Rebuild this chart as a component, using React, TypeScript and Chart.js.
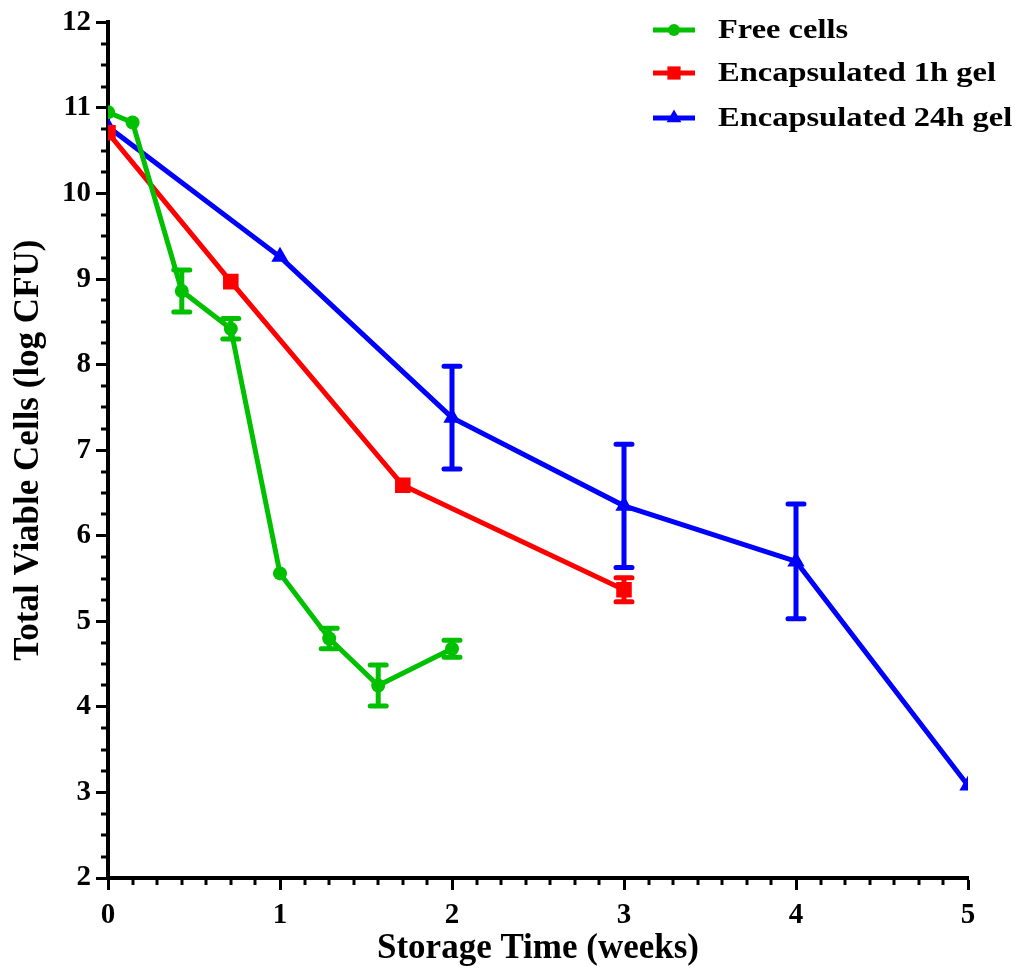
import React, { useEffect, useRef } from "react";
import { Chart, registerables } from "chart.js";

Chart.register(...registerables);

const freeX = [0, 0.143, 0.429, 0.714, 1, 1.286, 1.571, 2];
const freeY = [10.95, 10.83, 8.86, 8.42, 5.56, 4.8, 4.25, 4.68];
const freeErr = [0, 0, 0.245, 0.12, 0, 0.12, 0.24, 0.1];

const gel1X = [0, 0.714, 1.714, 3];
const gel1Y = [10.71, 8.97, 6.59, 5.37];
const gel1Err = [0, 0, 0, 0.14];

const gel24X = [0, 1, 2, 3, 4, 5];
const gel24Y = [10.78, 9.26, 7.38, 6.35, 5.7, 3.08];
const gel24Err = [0, 0, 0.6, 0.72, 0.67, 0];

const seriesLabels = ["Free cells", "Encapsulated 1h gel", "Encapsulated 24h gel"];
const seriesColors = ["#00C000", "#FF0000", "#0000FF"];
const seriesStyles = ["circle", "rect", "triangle"];
const seriesRadii = [7, 11, 10];

const xTicks = [0, 1, 2, 3, 4, 5];
const yTicks = [2, 3, 4, 5, 6, 7, 8, 9, 10, 11, 12];
const xMinorPerMajor = 7;
const yMinorPerMajor = 4;

const FONT = '"Liberation Serif", "Times New Roman", serif';

const errorErrs = [freeErr, gel1Err, gel24Err];

const errorBarPlugin = {
  id: "errorBars",
  afterDatasetsDraw(chart: any) {
    const ctx = chart.ctx;
    const ys = chart.scales.y;
    chart.data.datasets.forEach((ds: any, i: number) => {
      const meta = chart.getDatasetMeta(i);
      const errs = errorErrs[i];
      ctx.save();
      ctx.strokeStyle = ds.borderColor;
      ctx.lineWidth = 5;
      ctx.lineCap = "round";
      meta.data.forEach((pt: any, j: number) => {
        const e = errs[j];
        if (!e) return;
        const v = ds.data[j].y;
        const top = ys.getPixelForValue(v + e);
        const bot = ys.getPixelForValue(v - e);
        const x = pt.x;
        ctx.beginPath();
        ctx.moveTo(x, top);
        ctx.lineTo(x, bot);
        ctx.moveTo(x - 8, top);
        ctx.lineTo(x + 8, top);
        ctx.moveTo(x - 8, bot);
        ctx.lineTo(x + 8, bot);
        ctx.stroke();
      });
      ctx.restore();
    });
  },
};

const minorTickPlugin = {
  id: "minorTicks",
  afterDraw(chart: any) {
    const ctx = chart.ctx;
    const xs = chart.scales.x;
    const ys = chart.scales.y;
    const area = chart.chartArea;
    ctx.save();
    ctx.strokeStyle = "#000";
    ctx.lineWidth = 3;
    for (let k = 0; k < xTicks.length - 1; k++) {
      for (let m = 1; m < xMinorPerMajor; m++) {
        const v = xTicks[k] + (m * (xTicks[k + 1] - xTicks[k])) / xMinorPerMajor;
        const px = Math.round(xs.getPixelForValue(v));
        ctx.beginPath();
        ctx.moveTo(px, area.bottom);
        ctx.lineTo(px, area.bottom + 7);
        ctx.stroke();
      }
    }
    for (let k = 0; k < yTicks.length - 1; k++) {
      for (let m = 1; m < yMinorPerMajor; m++) {
        const v = yTicks[k] + (m * (yTicks[k + 1] - yTicks[k])) / yMinorPerMajor;
        const py = Math.round(ys.getPixelForValue(v));
        ctx.beginPath();
        ctx.moveTo(area.left, py);
        ctx.lineTo(area.left - 7, py);
        ctx.stroke();
      }
    }
    ctx.restore();
  },
};

const legendPlugin = {
  id: "customLegend",
  afterDraw(chart: any) {
    const ctx = chart.ctx;
    const x0 = 653;
    const x1 = 695;
    const textX = 718;
    const rows = [30, 73, 118];
    ctx.save();
    chart.data.datasets.forEach((ds: any, i: number) => {
      const y = rows[i];
      ctx.strokeStyle = ds.borderColor;
      ctx.lineWidth = 5;
      ctx.beginPath();
      ctx.moveTo(x0, y);
      ctx.lineTo(x1, y);
      ctx.stroke();
      ctx.fillStyle = ds.borderColor;
      const r = seriesRadii[i] * 0.85;
      const cx = (x0 + x1) / 2;
      ctx.beginPath();
      if (seriesStyles[i] === "circle") {
        ctx.arc(cx, y, r, 0, Math.PI * 2);
      } else if (seriesStyles[i] === "rect") {
        const s = r * Math.SQRT1_2;
        ctx.rect(cx - s, y - s, 2 * s, 2 * s);
      } else {
        ctx.moveTo(cx, y - r);
        ctx.lineTo(cx + r * 0.866, y + r * 0.5);
        ctx.lineTo(cx - r * 0.866, y + r * 0.5);
        ctx.closePath();
      }
      ctx.fill();
      ctx.save();
      ctx.fillStyle = "#000";
      ctx.font = `bold 28px ${FONT}`;
      ctx.textBaseline = "middle";
      ctx.textAlign = "left";
      ctx.translate(textX, y + 1);
      ctx.scale(1.16, 1);
      ctx.fillText(ds.label, 0, 0);
      ctx.restore();
    });
    ctx.restore();
  },
};

function makeDataset(i: number, xs: number[], ys: number[]) {
  return {
    label: seriesLabels[i],
    data: xs.map((x, j) => ({ x, y: ys[j] })),
    borderColor: seriesColors[i],
    backgroundColor: seriesColors[i],
    borderWidth: 5,
    pointStyle: seriesStyles[i],
    pointRadius: seriesRadii[i],
    pointBorderWidth: 0,
    pointBackgroundColor: seriesColors[i],
    showLine: true,
    tension: 0,
  };
}

export default function App() {
  const ref = useRef<HTMLCanvasElement | null>(null);
  useEffect(() => {
    if (!ref.current) return;
    const chart = new Chart(ref.current, {
      type: "scatter",
      data: {
        datasets: [
          makeDataset(0, freeX, freeY),
          makeDataset(1, gel1X, gel1Y),
          makeDataset(2, gel24X, gel24Y),
        ],
      },
      options: {
        animation: false,
        responsive: false,
        devicePixelRatio: 1,
        layout: { padding: { left: 8, right: 51, top: 20, bottom: 4 } },
        plugins: {
          legend: { display: false },
          tooltip: { enabled: false },
        },
        scales: {
          x: {
            type: "linear",
            min: 0,
            max: 5,
            afterBuildTicks: (s: any) => {
              s.ticks = xTicks.map((v) => ({ value: v }));
            },
            afterFit: (s: any) => {
              s.height = 92;
            },
            border: { display: true, color: "#000", width: 4 },
            grid: {
              drawOnChartArea: false,
              drawTicks: true,
              tickLength: 12,
              tickWidth: 3,
              tickColor: "#000",
            },
            ticks: {
              color: "#000",
              font: { family: FONT, size: 29, weight: "bold" },
              padding: 8,
              maxRotation: 0,
            },
            title: {
              display: true,
              text: "Storage Time (weeks)",
              color: "#000",
              font: { family: FONT, size: 35, weight: "bold" },
              padding: { top: 0, bottom: 0 },
            },
          },
          y: {
            type: "linear",
            min: 2,
            max: 12,
            afterBuildTicks: (s: any) => {
              s.ticks = yTicks.map((v) => ({ value: v }));
            },
            afterFit: (s: any) => {
              s.width = 100;
            },
            border: { display: true, color: "#000", width: 4 },
            grid: {
              drawOnChartArea: false,
              drawTicks: true,
              tickLength: 12,
              tickWidth: 3,
              tickColor: "#000",
            },
            ticks: {
              color: "#000",
              font: { family: FONT, size: 29, weight: "bold" },
              padding: 5,
            },
            title: {
              display: true,
              text: "Total Viable Cells (log CFU)",
              color: "#000",
              font: { family: FONT, size: 35, weight: "bold" },
              padding: { top: 0, bottom: 0 },
            },
          },
        },
      },
      plugins: [errorBarPlugin, minorTickPlugin, legendPlugin],
    } as any);
    return () => chart.destroy();
  }, []);
  return (
    <div style={{ position: "fixed", left: 0, top: 0, width: 1019, height: 974, background: "#fff" }}>
      <canvas ref={ref} width={1019} height={974} style={{ width: 1019, height: 974, display: "block" }} />
    </div>
  );
}
